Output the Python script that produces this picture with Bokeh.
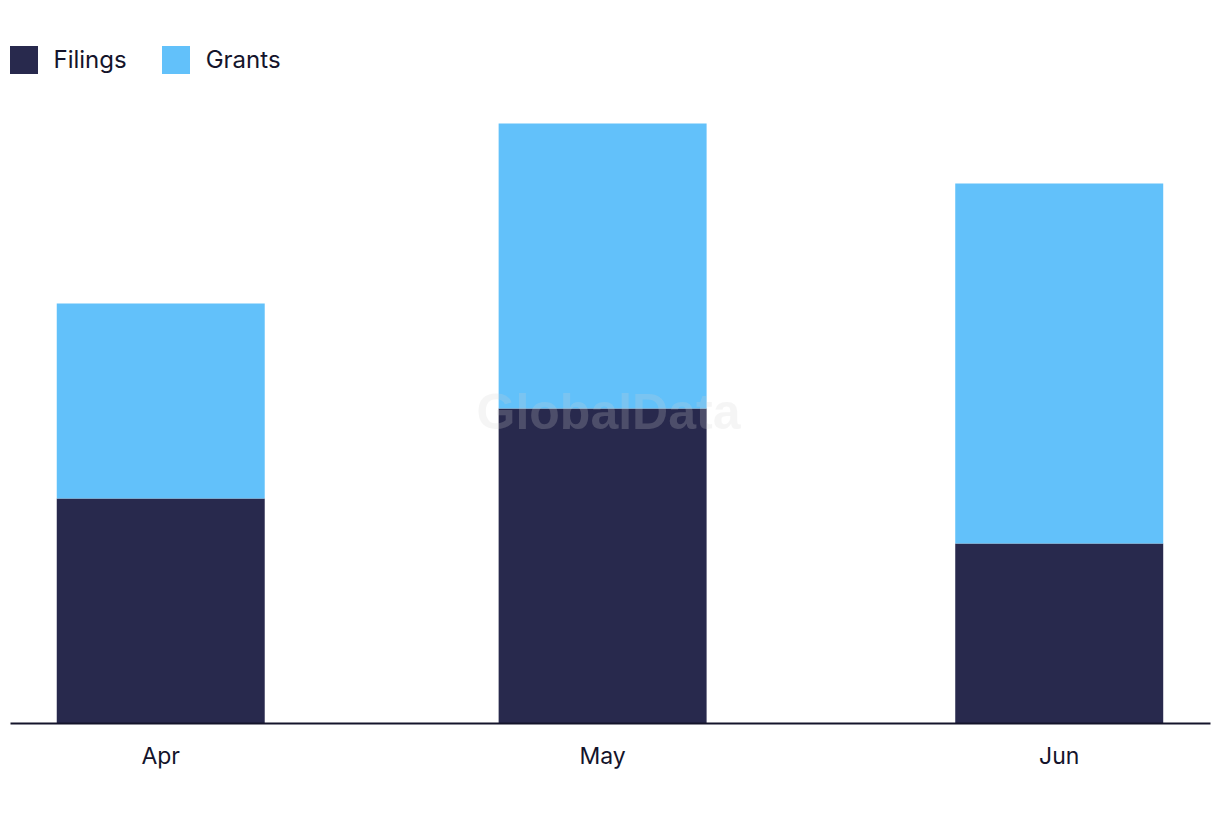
import pandas as pd
from bokeh.plotting import figure
from bokeh.models import ColumnDataSource, Range1d, FixedTicker, Legend, LegendItem, Label, CustomJSTickFormatter
from bokeh.embed import file_html
from bokeh.resources import INLINE

months = ["Apr", "May", "Jun"]
dates = ["2024-04-01", "2024-05-01", "2024-06-01"]
filings = [15, 21, 12]
grants = [13, 19, 24]

x = pd.to_datetime(dates)
DAY = 24 * 3600 * 1000
src = ColumnDataSource(dict(x=x, filings=filings, grants=grants, month=months))

p = figure(width=1220, height=822, x_axis_type="datetime", output_backend="svg",
           toolbar_location=None, min_border_left=10, min_border_right=10,
           min_border_top=0, min_border_bottom=99)
x0 = x[0].value / 1e6
x2 = x[-1].value / 1e6
p.x_range = Range1d(x0 - 10.2 * DAY, x2 + 10.27 * DAY)
p.y_range = Range1d(0, 723 / 15)

r = p.vbar_stack(["filings", "grants"], x="x", width=14.12 * DAY, source=src,
                 color=["#28294d", "#62c1fa"], line_color=None)

p.outline_line_color = None
p.xgrid.visible = False
p.ygrid.visible = False
p.yaxis.visible = False
p.background_fill_color = "white"
p.border_fill_color = "white"

ax = p.xaxis[0]
ax.ticker = FixedTicker(ticks=[d.value / 1e6 for d in x])
ax.formatter = CustomJSTickFormatter(code="""
const m = ["Jan","Feb","Mar","Apr","May","Jun","Jul","Aug","Sep","Oct","Nov","Dec"];
return m[new Date(tick).getUTCMonth()];
""")
ax.axis_line_color = "#14142b"
ax.axis_line_width = 2
ax.major_tick_line_color = None
ax.minor_tick_line_color = None
ax.major_label_standoff = 12
ax.major_label_text_font = "Inter"
ax.major_label_text_font_size = "23px"
ax.major_label_text_color = "#14142b"

legend = Legend(items=[LegendItem(label="Filings", renderers=[r[0]]),
                       LegendItem(label="Grants", renderers=[r[1]])],
                orientation="horizontal", location=(-4.5, 723 - 76.5),
                glyph_width=35, glyph_height=35, label_standoff=13, spacing=31,
                padding=0, margin=0, border_line_alpha=0, background_fill_alpha=0,
                label_text_font="Inter", label_text_font_size="24px",
                label_text_color="#14142b", label_height=35)
p.add_layout(legend)

wm = Label(x=598, y=822 - 99 - 411, x_units="screen", y_units="screen", text="GlobalData",
           text_font="Liberation Sans", text_font_style="bold", text_font_size="50px",
           text_color="#d0d0d0", text_alpha=0.22, text_align="center", text_baseline="middle")
p.add_layout(wm)

open("out.html", "w").write(file_html(p, INLINE))
